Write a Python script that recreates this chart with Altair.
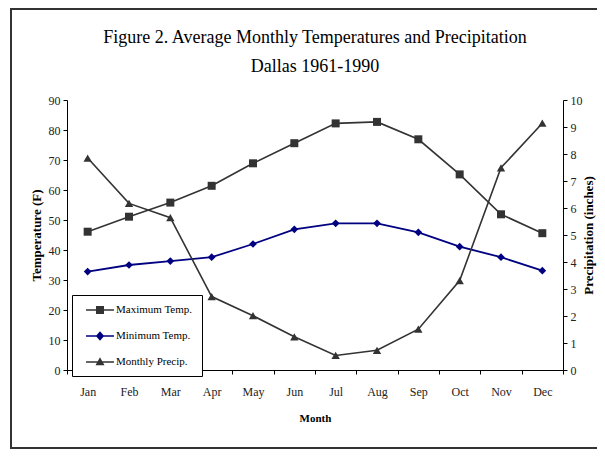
import altair as alt
import pandas as pd

months = ["Jan", "Feb", "Mar", "Apr", "May", "Jun", "Jul", "Aug", "Sep", "Oct", "Nov", "Dec"]
max_temp = [46.1, 51.1, 55.8, 61.4, 68.9, 75.6, 82.2, 82.7, 76.9, 65.2, 51.9, 45.6]
min_temp = [32.8, 35.0, 36.3, 37.6, 42.0, 46.9, 48.9, 48.9, 45.9, 41.1, 37.6, 33.1]
precip = [7.85, 6.17, 5.64, 2.72, 2.01, 1.23, 0.54, 0.73, 1.51, 3.31, 7.49, 9.14]

series_names = ["Maximum Temp.", "Minimum Temp.", "Monthly Precip."]
series_colors = ["#333333", "#000080", "#333333"]
temp_ticks = list(range(0, 91, 10))
precip_ticks = list(range(0, 11, 1))

df = pd.DataFrame({"Month": months, "Max": max_temp, "Min": min_temp, "Precip": precip})
legend_df = pd.DataFrame({"series": series_names})

FONT = "Liberation Serif"
GRAY = "#333333"
NAVY = "#000080"

x_enc = alt.X(
    "Month:N", sort=months, bandPosition=0.5,
    scale=alt.Scale(type="band", paddingInner=0, paddingOuter=0),
    axis=alt.Axis(title="Month", tickBand="extent", labelAngle=0, tickSize=4, grid=False,
                  labelPadding=12, titlePadding=15, titleFontWeight="bold",
                  titleFontSize=11, titleFont=FONT, labelFont=FONT, labelFontSize=12),
)

temp_scale = alt.Scale(domain=[0, 90])
precip_scale = alt.Scale(domain=[0, 10])

base = alt.Chart(df)

left_axis = alt.Axis(title="Temperature (F)", values=temp_ticks, tickCount=30, format="d",
                     orient="left", tickSize=4, grid=False, labelOverlap=False, labelFont=FONT,
                     titleFont=FONT, labelPadding=3, titlePadding=5, titleFontWeight="bold",
                     titleFontSize=13)
right_axis = alt.Axis(title="Precipitation (inches)", values=precip_ticks, tickCount=30,
                      format="d", orient="right", grid=False, labelOverlap=False,
                      labelFont=FONT, titleFont=FONT, tickSize=4, labelPadding=3,
                      titlePadding=13, titleFontWeight="bold", titleFontSize=13,
                      titleAngle=270)

max_line = base.mark_line(color=GRAY, strokeWidth=1.6).encode(
    x=x_enc, y=alt.Y("Max:Q", scale=temp_scale, axis=left_axis))
max_pts = base.mark_point(shape="square", filled=True, size=64, color=GRAY, opacity=1).encode(
    x=x_enc, y=alt.Y("Max:Q", scale=temp_scale, axis=left_axis))
min_line = base.mark_line(color=NAVY, strokeWidth=1.8).encode(
    x=x_enc, y=alt.Y("Min:Q", scale=temp_scale, axis=left_axis))
min_pts = base.mark_point(shape="diamond", filled=True, size=60, color=NAVY, opacity=1).encode(
    x=x_enc, y=alt.Y("Min:Q", scale=temp_scale, axis=left_axis))

p_line = base.mark_line(color=GRAY, strokeWidth=1.6).encode(
    x=x_enc, y=alt.Y("Precip:Q", scale=precip_scale, axis=right_axis))
p_pts = base.mark_point(shape="triangle-up", filled=True, size=70, color=GRAY, opacity=1).encode(
    x=x_enc, y=alt.Y("Precip:Q", scale=precip_scale, axis=right_axis))

LINE = "M-2.33,-0.13H2.33V0.13H-2.33Z"
legend_shapes = [
    LINE + " M-0.67,-0.67H0.67V0.67H-0.67Z",
    LINE + " M0,-0.8L0.7,0L0,0.8L-0.7,0Z",
    LINE + " M0,-0.8L0.75,0.55L-0.75,0.55Z",
]

legend_layer = alt.Chart(legend_df).transform_filter("false").mark_point(
    filled=True, size=144, opacity=1).encode(
    color=alt.Color("series:N", scale=alt.Scale(domain=series_names, range=series_colors),
                    title=None,
                    legend=alt.Legend(orient="none", legendX=5, legendY=195, padding=9,
                                      fillColor="white", strokeColor="black",
                                      symbolSize=144, symbolOffset=13, labelOffset=10,
                                      rowPadding=15, labelFont=FONT, labelFontSize=11,
                                      labelColor="black", symbolStrokeWidth=0)),
    shape=alt.Shape("series:N", scale=alt.Scale(domain=series_names, range=legend_shapes),
                    title=None),
)

border = alt.Chart(alt.Data(values=[{"k": 1}])).mark_rect(
    filled=False, stroke=GRAY, strokeWidth=2).encode(
    x=alt.value(-56), x2=alt.value(545), y=alt.value(-91), y2=alt.value(348))

temp = alt.layer(max_line, max_pts, min_line, min_pts)
prec = alt.layer(p_line, p_pts)

chart = alt.layer(border, temp, prec, legend_layer).resolve_scale(
    y="independent", color="independent", shape="independent"
).properties(
    width=496, height=270,
    background="white",
    autosize=alt.AutoSizeParams(type="none"),
    padding={"left": 59, "top": 92, "right": 34, "bottom": 79},
    title=alt.TitleParams(
        text=["Figure 2. Average Monthly Temperatures and Precipitation", "Dallas 1961-1990"],
        font=FONT, fontSize=18, fontWeight="normal", color="black", lineHeight=29,
        anchor="middle", frame="group", offset=-68),
).configure_view(strokeWidth=0).configure_axis(
    labelFont=FONT, titleFont=FONT, labelFontSize=12, labelColor="#222222",
    titleColor="black", domainColor="black", tickColor="black", grid=False,
)

chart.save("out.html", embed_options={"renderer": "svg", "actions": False})
